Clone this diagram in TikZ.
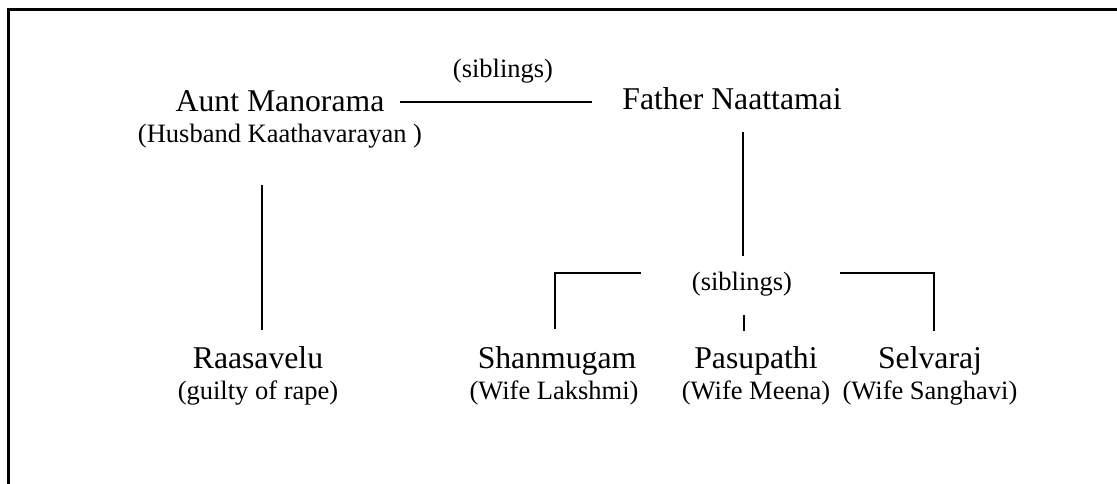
\documentclass[tikz,border=0pt]{standalone}
\usepackage{fontspec}
\setmainfont{Liberation Serif}
\begin{document}
\begin{tikzpicture}[x=1pt,y=-1pt,
  big/.style={font=\fontsize{31.7}{38}\selectfont, inner sep=0pt, anchor=base},
  small/.style={font=\fontsize{26.5}{32}\selectfont, inner sep=0pt, anchor=base},
  link/.style={line width=2pt},
  frameline/.style={line width=3pt}]
\useasboundingbox (0,0) rectangle (1117,484);
\coordinate (fb) at (8.5,484);
\coordinate (fc) at (8.5,10);
\coordinate (fr) at (1117,10);
\draw[frameline] (fb) -- (fc) -- (fr);

% nodes
\node[big] (aunt) at (280,112) {Aunt Manorama};
\node[small] (husband) at (280,143) {(Husband Kaathavarayan )};
\node[small] (sib1) at (503,78) {(siblings)};
\node[big] (father) at (732,110) {Father Naattamai};
\node[big] (raas) at (258,368) {Raasavelu};
\node[small] (raasnote) at (258,399) {(guilty of rape)};
\node[big] (shan) at (557,368) {Shanmugam};
\node[small] (shannote) at (554,399) {(Wife Lakshmi)};
\node[big] (pasu) at (756,368) {Pasupathi};
\node[small] (pasunote) at (756,399) {(Wife Meena)};
\node[big] (selv) at (930,368) {Selvaraj};
\node[small] (selvnote) at (930,399) {(Wife Sanghavi)};
\node[small] (sib2) at (742,290) {(siblings)};

% connector end points
\coordinate (auntR) at (400,102);
\coordinate (fatherL) at (592,102);
\coordinate (fatherB) at (743,132);
\coordinate (fatherE) at (743,256);
\coordinate (auntB) at (262,185);
\coordinate (raasT) at (262,330);
\coordinate (shanT) at (555,329);
\coordinate (lcorner) at (555,273);
\coordinate (lend) at (641,273);
\coordinate (rend) at (840,273);
\coordinate (rcorner) at (934,273);
\coordinate (selvT) at (934,331);
\coordinate (pasuA) at (744,315);
\coordinate (pasuT) at (744,331);

\draw[link] (auntR) -- (fatherL);
\draw[link] (fatherB) -- (fatherE);
\draw[link] (auntB) -- (raasT);
\draw[link] (shanT) -- (lcorner) -- (lend);
\draw[link] (rend) -- (rcorner) -- (selvT);
\draw[link] (pasuA) -- (pasuT);
\end{tikzpicture}
\end{document}
